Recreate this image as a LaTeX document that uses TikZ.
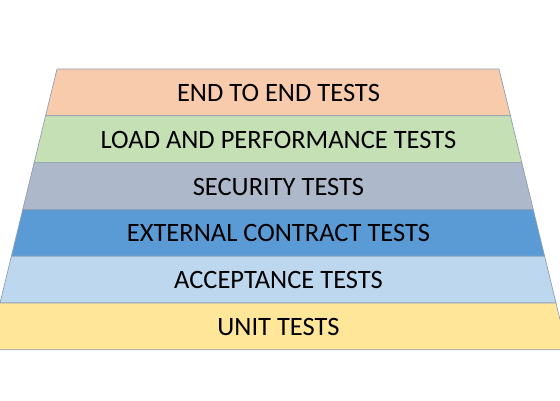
\documentclass[tikz,border=0pt]{standalone}
\usepackage{fontspec}
\setmainfont{Carlito}
\definecolor{c1}{HTML}{F8CBAD}
\definecolor{c2}{HTML}{C5E0B4}
\definecolor{c3}{HTML}{ADB9CA}
\definecolor{c4}{HTML}{5B9BD5}
\definecolor{c5}{HTML}{BDD7EE}
\definecolor{c6}{HTML}{FFE699}
\definecolor{edge}{HTML}{8EA0B2}
\begin{document}
\begin{tikzpicture}[x=1pt,y=-1pt,
  layer/.style={draw=edge, line width=0.7pt},
  lbl/.style={font=\fontsize{26.5}{30}\selectfont, text=black, inner sep=0pt}]
\useasboundingbox (0,0) rectangle (560,400);
\clip (0,0) rectangle (560,400);
\def\yA{69}
\def\h{46.8}
\def\s{0.2436}
\foreach \i/\c in {0/c1,1/c2,2/c3,3/c4,4/c5,5/c6}{
  \pgfmathsetmacro{\yt}{\yA+\i*\h}
  \pgfmathsetmacro{\yb}{\yA+(\i+1)*\h}
  \pgfmathsetmacro{\xlt}{57-(\yt-\yA)*\s}
  \pgfmathsetmacro{\xlb}{57-(\yb-\yA)*\s}
  \pgfmathsetmacro{\xrt}{499+(\yt-\yA)*\s}
  \pgfmathsetmacro{\xrb}{499+(\yb-\yA)*\s}
  \filldraw[layer, fill=\c] (\xlt,\yt) -- (\xrt,\yt) -- (\xrb,\yb) -- (\xlb,\yb) -- cycle;
}
\node[lbl] (t1) at (278.5, 93) {END TO END TESTS};
\node[lbl] (t2) at (278.5, 139.8) {LOAD AND PERFORMANCE TESTS};
\node[lbl] (t3) at (278.5, 186.6) {SECURITY TESTS};
\node[lbl] (t4) at (278.5, 233.4) {EXTERNAL CONTRACT TESTS};
\node[lbl] (t5) at (278.5, 280.2) {ACCEPTANCE TESTS};
\node[lbl] (t6) at (278.5, 327) {UNIT TESTS};
\end{tikzpicture}
\end{document}
